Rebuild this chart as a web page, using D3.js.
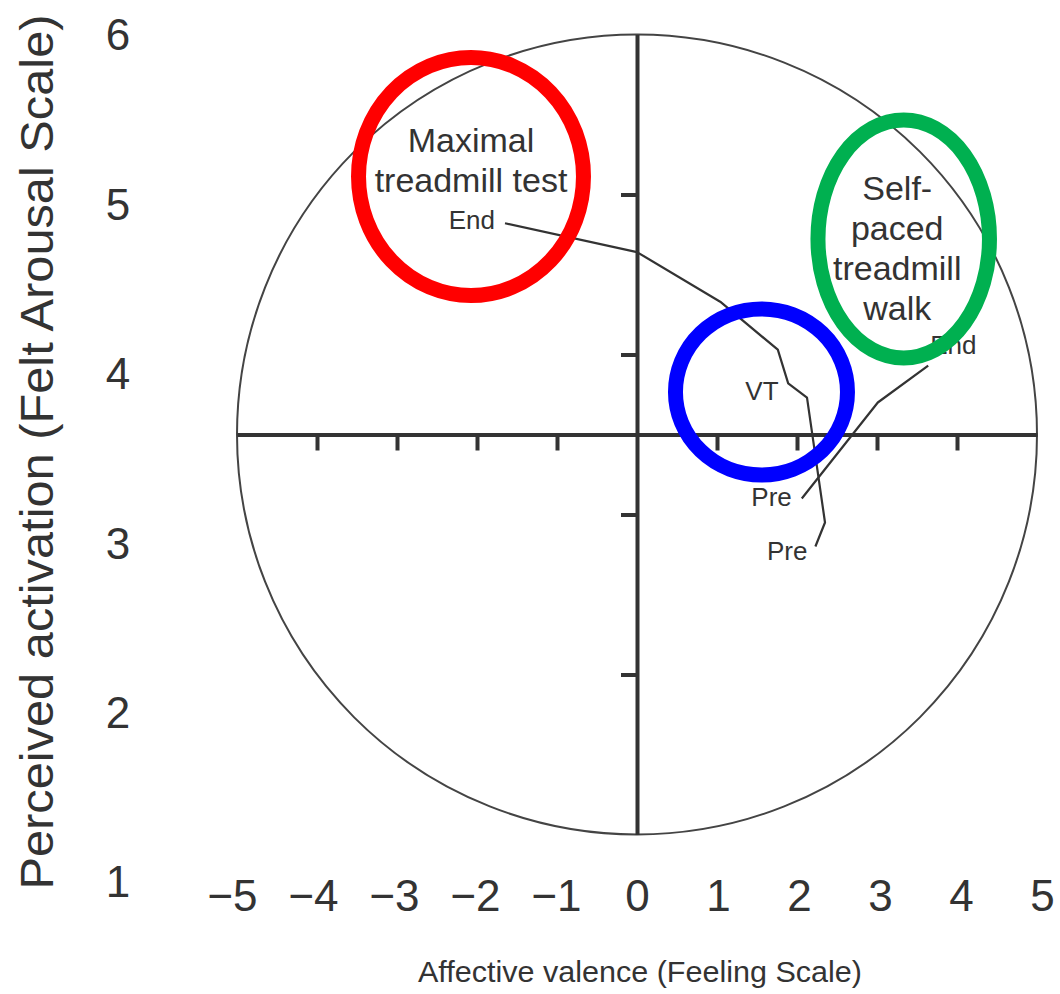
<!DOCTYPE html>
<html>
<head>
<meta charset="utf-8">
<script src="https://cdn.jsdelivr.net/npm/d3@7"></script>
<style>
  html, body { margin: 0; padding: 0; background: #fff; }
  svg { display: block; font-family: "Liberation Sans", Arial, Helvetica, sans-serif; }
</style>
</head>
<body>
<svg id="chart" width="1060" height="994"></svg>
<script>
// Valence (Feeling Scale) / activation (Felt Arousal Scale) trajectories
const xTickValues = [-5, -4, -3, -2, -1, 0, 1, 2, 3, 4, 5];
const yTickValues = [1, 2, 3, 4, 5, 6];
const xMinorTicks = [-4, -3, -2, -1, 1, 2, 3, 4];
const yMinorTicks = [2, 3, 4, 5];

// Maximal treadmill test: Pre -> VT -> End
const maxValence    = [2.23, 2.35, 2.125, 1.89, 1.76, 1.04, 0.00, -1.65];
const maxActivation = [2.80, 2.95, 3.73, 3.82, 4.03, 4.33, 4.64, 4.82];

// Self-paced treadmill walk: Pre -> End
const walkValence    = [2.06, 3.01, 3.64];
const walkActivation = [3.10, 3.70, 3.93];

const svg = d3.select("#chart");
const ink = "#333";

// scales for the circumplex plane
const x = d3.scaleLinear().domain([-5, 5]).range([237, 1037]);
const y = d3.scaleLinear().domain([1, 6]).range([834.5, 34.5]);
// scales for the outer numeric labels
const xLab = d3.scaleLinear().domain([-5, 5]).range([232, 1042]);
const yLab = d3.scaleLinear().domain([1, 6]).range([881, 34]);

const cx0 = x(0), cy0 = y(3.5);

// outer circle
svg.append("ellipse")
  .attr("cx", cx0).attr("cy", cy0)
  .attr("rx", x(5) - x(0)).attr("ry", y(1) - y(3.5))
  .attr("fill", "none").attr("stroke", "#444").attr("stroke-width", 2);

// horizontal axis through the centre
const gx = svg.append("g")
  .attr("transform", `translate(0,${cy0})`)
  .attr("color", ink)
  .call(d3.axisBottom(x).tickValues(xMinorTicks).tickSize(16).tickSizeOuter(0).tickFormat(""));
gx.select(".domain").style("stroke-width", "4px");
gx.selectAll(".tick line").style("stroke-width", "4px");

// vertical axis through the centre
const gy = svg.append("g")
  .attr("transform", `translate(${cx0},0)`)
  .attr("color", ink)
  .call(d3.axisLeft(y).tickValues(yMinorTicks).tickSize(16).tickSizeOuter(0).tickFormat(""));
gy.select(".domain").style("stroke-width", "4px");
gy.selectAll(".tick line").style("stroke-width", "4px");

// numeric labels
const minus = v => (v < 0 ? "\u2212" + Math.abs(v) : String(v));
const gxl = svg.append("g")
  .attr("transform", "translate(0,895)")
  .call(d3.axisBottom(xLab).tickValues(xTickValues).tickSize(0).tickFormat(minus));
gxl.select(".domain").remove();
gxl.selectAll("text")
  .attr("y", 0).attr("dy", "0.36em")
  .attr("font-size", 44).attr("font-family", null).attr("fill", ink);

const gyl = svg.append("g")
  .attr("transform", "translate(118,0)")
  .call(d3.axisLeft(yLab).tickValues(yTickValues).tickSize(0).tickFormat(d3.format("d")));
gyl.select(".domain").remove();
gyl.selectAll("text")
  .attr("x", 0).attr("dy", "0.36em").attr("text-anchor", "middle")
  .attr("font-size", 44).attr("font-family", null).attr("fill", ink);

// axis titles
svg.append("text")
  .attr("x", 640).attr("y", 982)
  .attr("text-anchor", "middle")
  .attr("font-size", 30).attr("fill", ink)
  .attr("textLength", 444).attr("lengthAdjust", "spacingAndGlyphs")
  .text("Affective valence (Feeling Scale)");

svg.append("text")
  .attr("transform", "translate(53,452) rotate(-90)")
  .attr("text-anchor", "middle")
  .attr("font-size", 46).attr("fill", ink)
  .attr("textLength", 875).attr("lengthAdjust", "spacingAndGlyphs")
  .text("Perceived activation (Felt Arousal Scale)");

// trajectories
const line = d3.line().x(d => x(d[0])).y(d => y(d[1]));
const maxPts = d3.zip(maxValence, maxActivation);
const walkPts = d3.zip(walkValence, walkActivation);

svg.selectAll("path.traj")
  .data([maxPts, walkPts])
  .join("path")
  .attr("class", "traj")
  .attr("d", line)
  .attr("fill", "none").attr("stroke", ink).attr("stroke-width", 2.2)
  .attr("stroke-linejoin", "round");

// point labels (Pre / End)
const pointLabels = [
  { text: "Pre", pt: maxPts[0], dx: -8, dy: 13, anchor: "end" },
  { text: "End", pt: maxPts[maxPts.length - 1], dx: -10, dy: 6, anchor: "end" },
  { text: "Pre", pt: walkPts[0], dx: -10, dy: 7, anchor: "end" },
  { text: "End", pt: walkPts[walkPts.length - 1], dx: 2, dy: -12, anchor: "start" }
];
svg.selectAll("text.pt")
  .data(pointLabels)
  .join("text")
  .attr("class", "pt")
  .attr("x", d => x(d.pt[0]) + d.dx)
  .attr("y", d => y(d.pt[1]) + d.dy)
  .attr("text-anchor", d => d.anchor)
  .attr("font-size", 26).attr("fill", ink)
  .text(d => d.text);

// highlighted regions
const highlights = [
  { cx: -2.075, cy: 5.1125, rx: 1.406, ry: 0.744, color: "#ff0000",
    lines: ["Maximal", "treadmill test"], size: 34, dx: 0, dy: -24.5 },
  { cx: 3.334, cy: 4.722, rx: 1.072, ry: 0.744, color: "#00b050",
    lines: ["Self-", "paced", "treadmill", "walk"], size: 34, dx: -6.5, dy: -39 },
  { cx: 1.556, cy: 3.766, rx: 1.075, ry: 0.519, color: "#0000ff",
    lines: ["VT"], size: 26, dx: 0.5, dy: 8 }
];

highlights.forEach(h => {
  const px = x(h.cx), py = y(h.cy);
  const t = svg.append("text")
    .attr("text-anchor", "middle")
    .attr("font-size", h.size).attr("fill", ink);
  h.lines.forEach((s, i) => {
    t.append("tspan")
      .attr("x", px + h.dx)
      .attr("y", py + h.dy + i * 40)
      .text(s);
  });
});

svg.selectAll("ellipse.hl")
  .data(highlights)
  .join("ellipse")
  .attr("class", "hl")
  .attr("cx", d => x(d.cx)).attr("cy", d => y(d.cy))
  .attr("rx", d => x(d.cx + d.rx) - x(d.cx))
  .attr("ry", d => y(d.cy - d.ry) - y(d.cy))
  .attr("fill", "none")
  .attr("stroke", d => d.color)
  .attr("stroke-width", 15);
</script>
</body>
</html>
